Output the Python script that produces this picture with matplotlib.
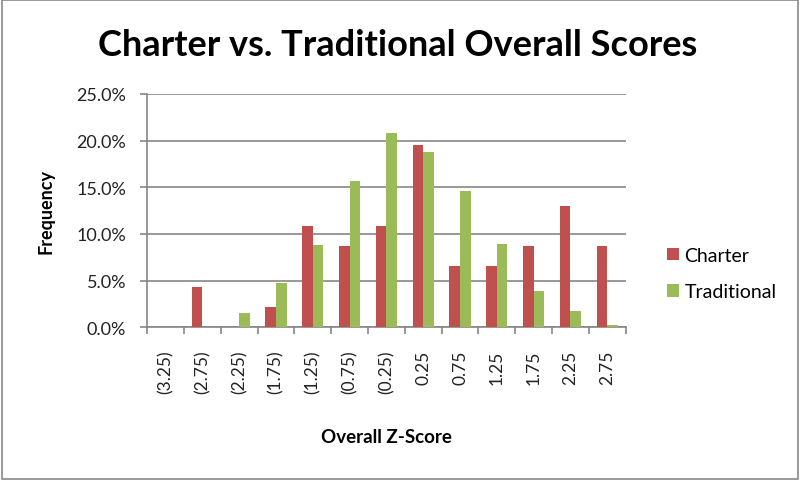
import matplotlib.pyplot as plt
import numpy as np
from matplotlib.patches import Rectangle

# Z-score bins and frequencies
bins = ["(3.25)", "(2.75)", "(2.25)", "(1.75)", "(1.25)", "(0.75)", "(0.25)",
        "0.25", "0.75", "1.25", "1.75", "2.25", "2.75"]
charter = [0.0, 4.35, 0.0, 2.17, 10.87, 8.70, 10.87,
           19.57, 6.52, 6.52, 8.70, 13.04, 8.70]
traditional = [0.0, 0.0, 1.55, 4.75, 8.80, 15.70, 20.85,
               18.75, 14.60, 8.95, 3.85, 1.70, 0.20]
y_ticks = [0, 5, 10, 15, 20, 25]

CHARTER_COLOR = "#C0504D"
TRAD_COLOR = "#9BBB59"
GRID_COLOR = "#868686"

plt.rcParams["font.family"] = ["Lato", "DejaVu Sans"]

fig = plt.figure(figsize=(8.0, 4.81), dpi=100)
ax = fig.add_axes([0.184, 0.3175, 0.598, 0.485])

x = np.arange(len(bins))
w = 1 / 3.5
ax.bar(x - w / 2, charter, width=w, color=CHARTER_COLOR, label="Charter", zorder=3)
ax.bar(x + w / 2, traditional, width=w, color=TRAD_COLOR, label="Traditional", zorder=3)

ax.set_xlim(-0.5, len(bins) - 0.5)
ax.set_ylim(0, 25)
ax.set_yticks(y_ticks)
ax.set_yticklabels([f"{v:.1f}%" for v in y_ticks], fontsize=13, color="#222222")
ax.yaxis.grid(True, color=GRID_COLOR, linewidth=1.2, zorder=0)

ax.set_xticks(x)
ax.set_xticklabels(bins, rotation=90, fontsize=12.5, color="#222222")
ax.tick_params(axis="x", which="major", length=0, pad=16)
ax.set_xticks(np.arange(len(bins) + 1) - 0.5, minor=True)
ax.tick_params(axis="x", which="minor", length=5, color=GRID_COLOR, width=1.2)
ax.tick_params(axis="y", length=5, color=GRID_COLOR, width=1.2, pad=10)

for side in ["top", "right"]:
    ax.spines[side].set_visible(False)
for side in ["left", "bottom"]:
    ax.spines[side].set_color(GRID_COLOR)
    ax.spines[side].set_linewidth(1.2)

ax.set_xlabel("Overall Z-Score", fontsize=13.5, fontweight="bold", labelpad=25)
ax.set_ylabel("Frequency", fontsize=13, fontweight="bold", labelpad=16)

fig.text(0.497, 0.905, "Charter vs. Traditional Overall Scores",
         fontsize=26, fontweight="bold", ha="center", va="center")

leg = ax.legend(loc="center left", bbox_to_anchor=(1.05, 0.23), frameon=False,
                fontsize=14, handlelength=0.6, handleheight=0.6,
                labelspacing=1.0, handletextpad=0.3)

# outer chart border
fig.patches.append(Rectangle((0.002, 0.003), 0.995, 0.994, transform=fig.transFigure,
                             fill=False, edgecolor="#888888", linewidth=1.2))

fig.savefig("out.png", dpi=100)
plt.close(fig)
